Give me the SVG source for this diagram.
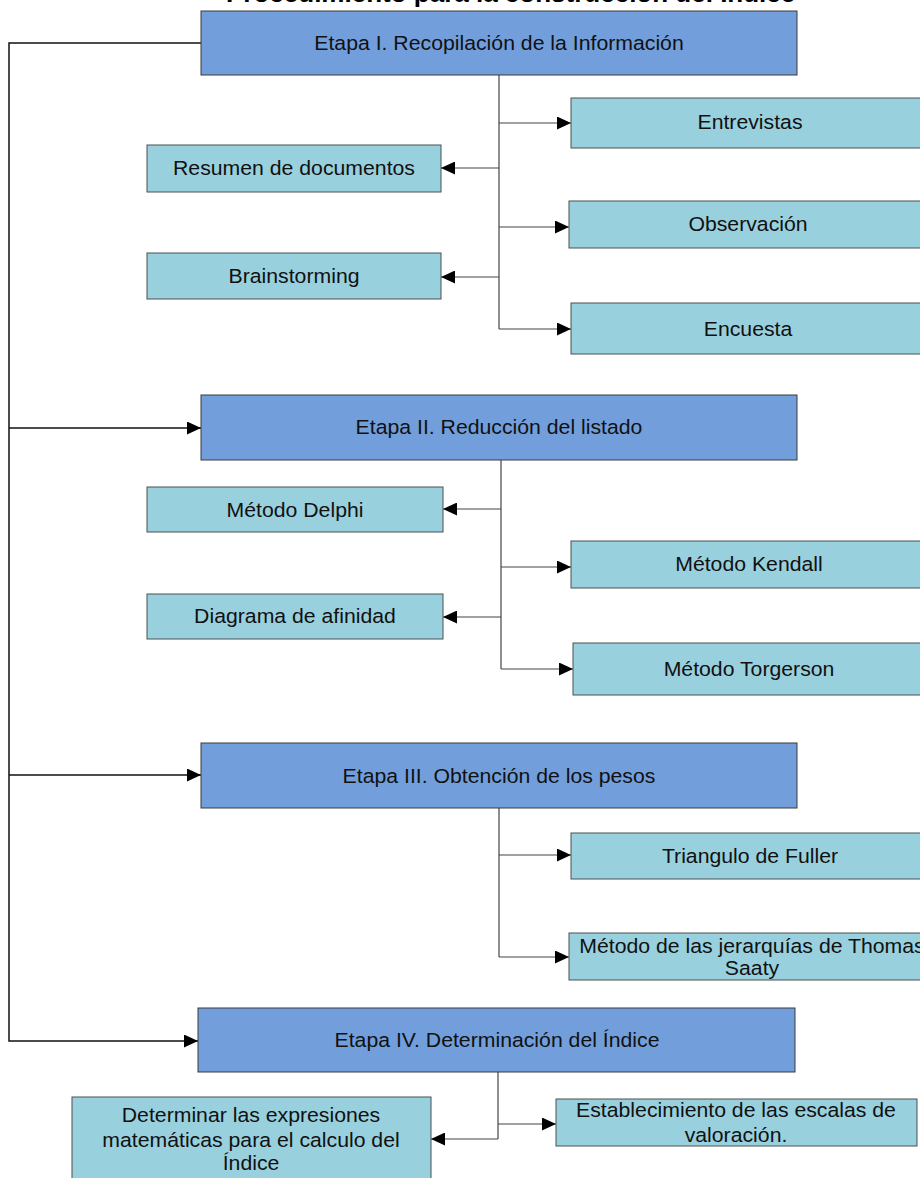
<svg xmlns="http://www.w3.org/2000/svg" width="920" height="1178" viewBox="0 0 920 1178">
  <style>
    .stage { fill: #729fdc; stroke: #3a3a3a; stroke-width: 1; }
    .item { fill: #99d0de; stroke: #4a5050; stroke-width: 1; }
    .lbl { font-family: "Liberation Sans", Arial, sans-serif; font-size: 19.5px; fill: #111; text-anchor: middle; }
    .title { font-family: "Liberation Sans", Arial, sans-serif; font-size: 26px; font-weight: bold; fill: #000; }
    .link { fill: none; stroke: #444; stroke-width: 1.2; }
    .trunk { fill: none; stroke: #111; stroke-width: 1.5; }
  </style>
  <defs>
    <marker id="arrow" markerUnits="userSpaceOnUse" markerWidth="14" markerHeight="13" refX="14" refY="6.5" orient="auto">
      <path d="M0,0 L14,6.5 L0,13 Z" fill="#000"/>
    </marker>
  </defs>
  <rect width="920" height="1178" fill="#fff"/>

  <!-- heading, mostly above the top edge -->
  <text class="title" x="226" y="1.5">Procedimiento para la construcción del Índice</text>

  <!-- connectors -->
  <g id="connectors">
    <!-- main trunk on the left -->
    <path class="trunk" d="M201,43 H9 V1041 H198" marker-end="url(#arrow)"/>
    <path class="trunk" d="M9,428 H201" marker-end="url(#arrow)"/>
    <path class="trunk" d="M9,775 H201" marker-end="url(#arrow)"/>

    <!-- stage I -->
    <path class="link" d="M499,75 V329"/>
    <path class="link" d="M499,123 H571" marker-end="url(#arrow)"/>
    <path class="link" d="M499,168 H441" marker-end="url(#arrow)"/>
    <path class="link" d="M499,227 H569" marker-end="url(#arrow)"/>
    <path class="link" d="M499,277 H441" marker-end="url(#arrow)"/>
    <path class="link" d="M499,329 H571" marker-end="url(#arrow)"/>

    <!-- stage II -->
    <path class="link" d="M501,460 V669"/>
    <path class="link" d="M501,509 H443" marker-end="url(#arrow)"/>
    <path class="link" d="M501,567 H571" marker-end="url(#arrow)"/>
    <path class="link" d="M501,617 H443" marker-end="url(#arrow)"/>
    <path class="link" d="M501,669 H573" marker-end="url(#arrow)"/>

    <!-- stage III -->
    <path class="link" d="M499,808 V957"/>
    <path class="link" d="M499,855 H571" marker-end="url(#arrow)"/>
    <path class="link" d="M499,957 H569" marker-end="url(#arrow)"/>

    <!-- stage IV -->
    <path class="link" d="M498,1072 V1139"/>
    <path class="link" d="M498,1124 H556" marker-end="url(#arrow)"/>
    <path class="link" d="M498,1139 H431" marker-end="url(#arrow)"/>
  </g>

  <!-- stage I -->
  <g id="etapa1">
    <rect class="stage" x="201" y="11" width="596" height="64"/>
    <text class="lbl" transform="translate(499 49.5) scale(1.09 1)">Etapa I. Recopilación de la Información</text>
  </g>
  <g id="entrevistas">
    <rect class="item" x="571" y="98" width="362" height="50"/>
    <text class="lbl" transform="translate(750 129) scale(1.09 1)">Entrevistas</text>
  </g>
  <g id="resumen">
    <rect class="item" x="147" y="145" width="294" height="47"/>
    <text class="lbl" transform="translate(294 175) scale(1.09 1)">Resumen de documentos</text>
  </g>
  <g id="observacion">
    <rect class="item" x="569" y="201" width="364" height="47"/>
    <text class="lbl" transform="translate(748 231) scale(1.09 1)">Observación</text>
  </g>
  <g id="brainstorming">
    <rect class="item" x="147" y="253" width="294" height="46"/>
    <text class="lbl" transform="translate(294 283) scale(1.09 1)">Brainstorming</text>
  </g>
  <g id="encuesta">
    <rect class="item" x="571" y="303" width="362" height="51"/>
    <text class="lbl" transform="translate(748 336) scale(1.09 1)">Encuesta</text>
  </g>

  <!-- stage II -->
  <g id="etapa2">
    <rect class="stage" x="201" y="395" width="596" height="65"/>
    <text class="lbl" transform="translate(499 434) scale(1.09 1)">Etapa II. Reducción del listado</text>
  </g>
  <g id="delphi">
    <rect class="item" x="147" y="487" width="296" height="45"/>
    <text class="lbl" transform="translate(295 516.5) scale(1.09 1)">Método Delphi</text>
  </g>
  <g id="kendall">
    <rect class="item" x="571" y="541" width="362" height="47"/>
    <text class="lbl" transform="translate(749 571) scale(1.09 1)">Método Kendall</text>
  </g>
  <g id="afinidad">
    <rect class="item" x="147" y="594" width="296" height="45"/>
    <text class="lbl" transform="translate(295 623) scale(1.09 1)">Diagrama de afinidad</text>
  </g>
  <g id="torgerson">
    <rect class="item" x="573" y="643" width="360" height="52"/>
    <text class="lbl" transform="translate(749 676) scale(1.09 1)">Método Torgerson</text>
  </g>

  <!-- stage III -->
  <g id="etapa3">
    <rect class="stage" x="201" y="743" width="596" height="65"/>
    <text class="lbl" transform="translate(499 783) scale(1.09 1)">Etapa III. Obtención de los pesos</text>
  </g>
  <g id="fuller">
    <rect class="item" x="571" y="833" width="362" height="46"/>
    <text class="lbl" transform="translate(750 862.5) scale(1.09 1)">Triangulo de Fuller</text>
  </g>
  <g id="saaty">
    <rect class="item" x="569" y="933" width="364" height="47"/>
    <text class="lbl" transform="translate(752 953) scale(1.09 1)">Método de las jerarquías de Thomas</text>
    <text class="lbl" transform="translate(752 975) scale(1.09 1)">Saaty</text>
  </g>

  <!-- stage IV -->
  <g id="etapa4">
    <rect class="stage" x="198" y="1008" width="597" height="64"/>
    <text class="lbl" transform="translate(497 1046.5) scale(1.09 1)">Etapa IV. Determinación del Índice</text>
  </g>
  <g id="escalas">
    <rect class="item" x="556" y="1099" width="361" height="47"/>
    <text class="lbl" transform="translate(736 1117) scale(1.09 1)">Establecimiento de las escalas de</text>
    <text class="lbl" transform="translate(736 1141.5) scale(1.09 1)">valoración.</text>
  </g>
  <g id="expresiones">
    <rect class="item" x="72" y="1097" width="359" height="100"/>
    <text class="lbl" transform="translate(251 1121.5) scale(1.09 1)">Determinar las expresiones</text>
    <text class="lbl" transform="translate(251 1146.5) scale(1.09 1)">matemáticas para el calculo del</text>
    <text class="lbl" transform="translate(251 1170) scale(1.09 1)">Índice</text>
  </g>
</svg>
